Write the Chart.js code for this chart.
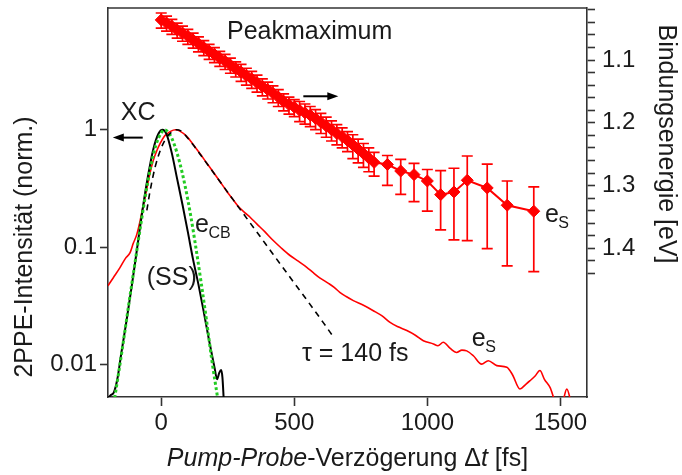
<!DOCTYPE html>
<html><head><meta charset="utf-8">
<script src="https://cdn.jsdelivr.net/npm/chart.js@4/dist/chart.umd.min.js"></script>
<style>html,body{margin:0;padding:0;background:#fff}#wrap{width:682px;height:475px}</style>
</head><body><div id="wrap"><canvas id="c" width="682" height="475"></canvas></div>
<script>
// ---- data ----
const redTime = [-200,-180,-155,-135,-117,-105,-92,-80,-73,-63,-54,-42,-30,-17,-4,10,21,35,54,70,96,120,146,170,196,220,246,268,290,315,334,359,390,421,450,484,515,547,570,597,630,650,671,695,722,760,797,830,860,890,923,955,985,1023,1040,1060,1085,1110,1130,1148,1173,1204,1229,1261,1299,1320,1348,1370,1386,1405,1423,1440,1461,1486,1510,1524,1540];
const redInt  = [0.047,0.055,0.067,0.080,0.090,0.108,0.128,0.165,0.198,0.25,0.317,0.43,0.548,0.66,0.765,0.87,0.92,0.97,1.0,0.975,0.88,0.75,0.625,0.525,0.435,0.365,0.30,0.258,0.222,0.196,0.18,0.158,0.135,0.114,0.099,0.085,0.076,0.0675,0.061,0.0546,0.049,0.0455,0.0413,0.038,0.0351,0.032,0.0288,0.026,0.0229,0.021,0.0195,0.0178,0.016,0.015,0.0145,0.0155,0.0138,0.0127,0.0133,0.0131,0.0119,0.0101,0.0108,0.0098,0.0095,0.0082,0.0062,0.0068,0.0073,0.0080,0.0089,0.0075,0.0064,0.0047,0.0050,0.0062,0.0048];

const xcTime = [-199,-190,-178,-165,-150,-130,-110,-90,-70,-50,-30,-10,5,20,40,60,80,100,120,140,160,180,200,210,218,225,230,235];
const xcInt  = [0.0052,0.0055,0.0058,0.0075,0.0125,0.024,0.048,0.10,0.21,0.40,0.68,0.93,1.0,0.92,0.63,0.38,0.23,0.135,0.078,0.048,0.028,0.016,0.0095,0.0075,0.0085,0.009,0.0078,0.005];

const gaussTime = [-175,-160,-140,-120,-100,-80,-60,-40,-20,0,12,30,50,70,90,110,130,150,170,190,212];
const gaussInt  = [0.0052,0.0085,0.017,0.035,0.07,0.14,0.27,0.48,0.74,0.94,1.0,0.93,0.74,0.52,0.33,0.19,0.10,0.05,0.024,0.011,0.0052];

const fitTime = [-54,-42,-23,0,20,40,56,80,96,120,146,196,246,296,359,421,484,547,609,647];
const fitInt  = [0.206,0.30,0.48,0.70,0.86,0.96,1.0,0.96,0.87,0.745,0.62,0.433,0.302,0.211,0.135,0.0867,0.0555,0.0356,0.0228,0.0172];

const beTime = [0,20,40,60,80,100,120,140,160,180,200,220,240,260,280,300,320,340,360,380,400,420,440,460,480,500,520,540,560,580,600,620,640,660,680,700,720,740,760,780,800,850,900,950,1000,1050,1100,1150,1225,1300,1400];
const beEnergy = [1.036,1.041,1.046,1.052,1.057,1.062,1.068,1.074,1.080,1.086,1.091,1.097,1.102,1.108,1.114,1.119,1.125,1.130,1.136,1.142,1.147,1.153,1.159,1.166,1.171,1.175,1.180,1.184,1.188,1.193,1.199,1.205,1.211,1.217,1.222,1.228,1.235,1.242,1.249,1.256,1.263,1.2664,1.2768,1.2826,1.2927,1.3145,1.3102,1.2916,1.3038,1.3314,1.3409];
const beErrMinus = [0.011,0.011,0.011,0.011,0.011,0.011,0.011,0.011,0.011,0.011,0.011,0.011,0.011,0.011,0.011,0.012,0.012,0.012,0.012,0.012,0.012,0.012,0.012,0.012,0.012,0.012,0.014,0.014,0.014,0.014,0.014,0.014,0.014,0.014,0.014,0.014,0.016,0.016,0.016,0.016,0.016,0.0143,0.0184,0.0181,0.0183,0.0382,0.0378,0.0387,0.0379,0.0387,0.0387];
const beErrPlus  = [0.013,0.013,0.013,0.013,0.013,0.013,0.013,0.013,0.013,0.013,0.013,0.013,0.013,0.013,0.013,0.015,0.015,0.015,0.015,0.015,0.015,0.015,0.015,0.015,0.015,0.015,0.018,0.018,0.018,0.018,0.018,0.018,0.018,0.018,0.018,0.018,0.022,0.022,0.022,0.022,0.022,0.0334,0.0374,0.043,0.0482,0.0562,0.0764,0.0963,0.0968,0.0966,0.0962];

const xTickValues = [0,500,1000,1500];
const xTickLabels = ['0','500','1000','1500'];
const yTickValues = [0.01,0.1,1];
const yTickLabels = ['0.01','0.1','1'];
const y2TickValues = [1.02,1.04,1.06,1.08,1.10,1.12,1.14,1.16,1.18,1.20,1.22,1.24,1.26,1.28,1.30,1.32,1.34,1.36,1.38,1.40,1.42,1.44];
const y2TickLabels = ['','','','','1.1','','','','','1.2','','','','','1.3','','','','','1.4','',''];

// ---- styling ----
const FONT = "'Liberation Sans', Arial, Helvetica, sans-serif";
const RED = '#ff0000', AX = '#333333', TXT = '#1a1a1a', GREEN = '#22cc22';
const toXY = (xs, ys) => xs.map((x, i) => ({x: x, y: ys[i]}));
const noPad = s => { s.paddingTop = 0; s.paddingBottom = 0; s.paddingLeft = 0; s.paddingRight = 0; };

const annot = {
  id: 'annot',
  beforeDatasetsDraw(chart) {
    const ctx = chart.ctx, xs = chart.scales.x, y2 = chart.scales.y2, ca = chart.chartArea;
    ctx.save();
    ctx.beginPath(); ctx.rect(ca.left, ca.top, ca.right - ca.left, ca.bottom - ca.top); ctx.clip();
    ctx.strokeStyle = RED; ctx.lineWidth = 1.7;
    for (let i = 0; i < beTime.length; i++) {
      const x = xs.getPixelForValue(beTime[i]);
      const yTop = y2.getPixelForValue(beEnergy[i] - beErrMinus[i]);
      const yBot = y2.getPixelForValue(beEnergy[i] + beErrPlus[i]);
      ctx.beginPath();
      ctx.moveTo(x, yTop); ctx.lineTo(x, yBot);
      ctx.moveTo(x - 5.5, yTop); ctx.lineTo(x + 5.5, yTop);
      ctx.moveTo(x - 5.5, yBot); ctx.lineTo(x + 5.5, yBot);
      ctx.stroke();
    }
    ctx.restore();
  },
  afterDraw(chart) {
    const ctx = chart.ctx, xs = chart.scales.x, ys = chart.scales.y, ca = chart.chartArea;
    const X = t => xs.getPixelForValue(t), Y = v => ys.getPixelForValue(v);
    ctx.save();
    // top frame
    ctx.strokeStyle = AX; ctx.lineWidth = 1.6;
    ctx.beginPath(); ctx.moveTo(ca.left, ca.top); ctx.lineTo(ca.right, ca.top); ctx.stroke();

    ctx.fillStyle = TXT; ctx.textBaseline = 'alphabetic'; ctx.textAlign = 'left';
    const txt = (s, x, y, size, style) => { ctx.font = (style || '') + ' ' + size + 'px ' + FONT; ctx.fillText(s, x, y); return ctx.measureText(s).width; };
    const sub = (main, subs, t, v) => {
      const x = X(t), y = Y(v);
      const w = txt(main, x, y, 25);
      txt(subs, x + w - 0.5, y + 6, 16);
    };
    txt('Peakmaximum', X(247), Y(5.98), 25);
    txt('XC', X(-152), Y(1.22), 25);
    txt('(SS)', X(-54.5), Y(0.048), 25);
    txt('\u03C4 = 140 fs', X(529), Y(0.0108), 25);
    sub('e', 'CB', 127, 0.134);
    sub('e', 'S', 1167, 0.0145);
    sub('e', 'S', 1442, 0.163);

    // arrows
    const arrow = (t0, t1, v) => {
      const x0 = X(t0), x1 = X(t1), y = Y(v), dir = Math.sign(x1 - x0);
      ctx.strokeStyle = '#000'; ctx.fillStyle = '#000'; ctx.lineWidth = 2;
      ctx.beginPath(); ctx.moveTo(x0, y); ctx.lineTo(x1 - dir * 8, y); ctx.stroke();
      ctx.beginPath(); ctx.moveTo(x1, y); ctx.lineTo(x1 - dir * 11, y - 4); ctx.lineTo(x1 - dir * 11, y + 4); ctx.closePath(); ctx.fill();
    };
    arrow(-69.5, -182, 0.858);
    arrow(534, 665.5, 1.93);

    // x axis title with italic parts
    ctx.fillStyle = TXT;
    const parts = [['Pump-Probe', 'italic'], ['-Verz\u00F6gerung \u0394', ''], ['t', 'italic'], [' [fs]', '']];
    let total = 0;
    parts.forEach(p => { ctx.font = p[1] + ' 25px ' + FONT; total += ctx.measureText(p[0]).width; });
    let x = (ca.left + ca.right) / 2 - total / 2;
    parts.forEach(p => { ctx.font = p[1] + ' 25px ' + FONT; ctx.fillText(p[0], x, 466); x += ctx.measureText(p[0]).width; });

    // left title
    ctx.font = '25px ' + FONT; ctx.textAlign = 'center';
    ctx.save(); ctx.translate(32, 247); ctx.rotate(-Math.PI / 2); ctx.fillText('2PPE-Intensit\u00E4t (norm.)', 0, 0); ctx.restore();
    // right title
    ctx.save(); ctx.translate(659, 144); ctx.rotate(Math.PI / 2); ctx.fillText('Bindungsenergie [eV]', 0, 0); ctx.restore();
    ctx.restore();
  }
};

const tickFont = {family: FONT, size: 24};
new Chart(document.getElementById('c'), {
  type: 'line',
  data: {
    datasets: [
      {label: 'Peakmaximum', data: toXY(beTime, beEnergy), yAxisID: 'y2', order: 0,
       borderColor: RED, backgroundColor: RED, borderWidth: 2, pointStyle: 'rectRot', pointRadius: 6, pointBorderWidth: 1, pointBackgroundColor: RED, pointBorderColor: RED},
      {label: 'fit', data: toXY(fitTime, fitInt), yAxisID: 'y', order: 1,
       borderColor: '#000', borderWidth: 1.6, borderDash: [6, 5], pointRadius: 0, cubicInterpolationMode: 'monotone'},
      {label: 'Gauss', data: toXY(gaussTime, gaussInt), yAxisID: 'y', order: 2,
       borderColor: GREEN, borderWidth: 3, borderDash: [3, 2.5], pointRadius: 0, cubicInterpolationMode: 'monotone'},
      {label: 'XC', data: toXY(xcTime, xcInt), yAxisID: 'y', order: 3,
       borderColor: '#000', borderWidth: 2, pointRadius: 0, cubicInterpolationMode: 'monotone'},
      {label: 'e', data: toXY(redTime, redInt), yAxisID: 'y', order: 4,
       borderColor: RED, borderWidth: 1.6, pointRadius: 0, cubicInterpolationMode: 'monotone'}
    ]
  },
  options: {
    responsive: false, animation: false, devicePixelRatio: 1,
    layout: {padding: {top: 8, left: 0, right: 0, bottom: 0}},
    plugins: {legend: {display: false}, tooltip: {enabled: false}},
    scales: {
      x: {type: 'linear', position: 'bottom', min: -200, max: 1600,
          afterBuildTicks: s => { s.ticks = xTickValues.map(v => ({value: v})); },
          afterFit: s => { s.height = 78; noPad(s); },
          ticks: {callback: (v, i) => xTickLabels[i], font: tickFont, color: TXT, padding: 3, maxRotation: 0, autoSkip: false},
          grid: {display: true, drawOnChartArea: false, drawTicks: true, tickLength: 9, tickColor: AX, tickWidth: 1.6},
          border: {display: true, color: AX, width: 1.6}},
      y: {type: 'logarithmic', position: 'left', min: 0.0053, max: 10.9,
          afterBuildTicks: s => { s.ticks = yTickValues.map(v => ({value: v})); },
          afterFit: s => { s.width = 108; noPad(s); },
          ticks: {callback: (v, i) => yTickLabels[i], font: tickFont, color: TXT, padding: 3, autoSkip: false},
          grid: {display: true, drawOnChartArea: false, drawTicks: true, tickLength: 8, tickColor: AX, tickWidth: 1.6},
          border: {display: true, color: AX, width: 1.6}},
      y2: {type: 'linear', position: 'right', reverse: true, min: 1.017, max: 1.637,
          afterBuildTicks: s => { s.ticks = y2TickValues.map(v => ({value: v})); },
          afterFit: s => { s.width = 95; noPad(s); },
          ticks: {callback: (v, i) => y2TickLabels[i], font: tickFont, color: TXT, padding: 7, autoSkip: false},
          grid: {display: true, drawOnChartArea: false, drawTicks: true, tickLength: 8, tickColor: AX, tickWidth: 1.6},
          border: {display: true, color: AX, width: 1.6}}
    }
  },
  plugins: [annot]
});
</script></body></html>
